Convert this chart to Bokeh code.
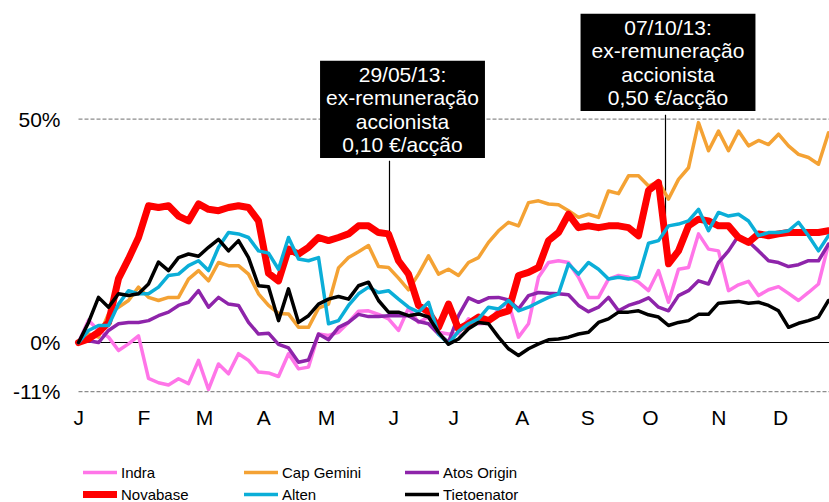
from bokeh.plotting import figure
from bokeh.models import Range1d, FixedTicker, Label, Legend, LegendItem
from bokeh.core.properties import value
from bokeh.embed import file_html
from bokeh.resources import INLINE

# sample index (approx. weekly-ish sampling across 2013)
idx = list(range(76))

indra = [0, 5, 2.7, 1.2, -1.8, -0.3, 1.5, -8, -9, -9.5, -8.1, -9.2, -4, -10.5, -4.8, -7,
         -2.5, -4, -6.6, -6.8, -7.6, -2.5, -5.9, -5.5, 1.9, 1.6, 2.3, 4.5, 7, 7.1, 6.3, 5.3,
         2.7, 7.7, 4.5, 5.7, 2.3, 1.9, 2, 5.3, 4.2, 4.3, 7.5, 9, 1.2, 4.2, 14.6, 17.9, 18.3,
         17.9, 14.6, 10.1, 10.1, 14.2, 15, 14.6, 13.5, 11.6, 16.1, 9, 16.4, 16.8, 24.3, 20.9,
         20.5, 11.6, 12.9, 13.7, 10.5, 11.8, 12.5, 11, 9.4, 11.2, 13.1, 22]

cap_gemini = [0, 1.9, 1.2, 6.4, 7.9, 9.4, 12.4, 10.1, 9.4, 10.1, 10.1, 14.2, 16.1, 13.8, 17.9,
              17.2, 17.2, 15.3, 10.9, 8.3, 6.5, 6.4, 3.4, 3.4, 7.7, 8.6, 16.7, 19, 20.3, 21.7,
              17, 16.8, 14.4, 11.8, 15.3, 19.4, 15.3, 16.4, 15, 17.9, 19, 22.4, 25, 26.9, 26.1,
              31.3, 31.7, 31, 30.8, 29.5, 28, 28.7, 28, 33.9, 33.3, 37.3, 37.3, 35, 36, 32.1,
              36.5, 39.1, 49.2, 42.9, 47.3, 42.9, 47.3, 44, 45.2, 44.3, 46.6, 44, 42.1, 41.4,
              39.9, 46.9]

atos_origin = [0, 0.4, 0, 2.7, 4.2, 4.5, 4.5, 4.9, 6, 6.8, 8.3, 9, 11.6, 7.9, 10.1, 8.6, 8.3,
               4.5, 1.9, 2.1, -0.4, -1.2, -4.4, -3.9, 1.9, 0.6, 3.4, 4.5, 6.3, 5.8, 5.8, 6, 6,
               6, 4.7, 4.2, 1.9, 0.1, 6, 10, 9, 10, 10.1, 9.5, 7.5, 10.5, 11.2, 11, 10.9, 10.7,
               8.3, 6.9, 7.9, 10.1, 7.1, 8.3, 9, 10, 7.9, 7.1, 10.5, 11.6, 13.8, 13.1, 17.9,
               20.5, 23.9, 22.6, 20.5, 18.3, 17.9, 17, 17.4, 18.3, 18.3, 22]

novabase = [0, 0.8, 2.3, 4.5, 14.3, 18.7, 23.5, 30.6, 30.2, 30.6, 28.3, 27.2, 31, 29.8, 29.5,
            30.2, 30.6, 30.2, 27.2, 15.5, 13.8, 20.9, 19.8, 21.3, 23.5, 22.8, 23.5, 24.3, 26.1,
            26.1, 24.6, 24.3, 18.3, 15.3, 8.3, 6.8, 3.4, 8.6, 3, 4.2, 5.7, 4.9, 6.4, 7.1, 15,
            15.7, 16.8, 22.8, 24.6, 28.7, 25.7, 26.1, 25.7, 26.1, 26.1, 25.7, 23.9, 34, 35.8,
            17.6, 20.5, 26.1, 27.6, 27.2, 26.1, 26.1, 23.5, 22.4, 24.3, 23.9, 24.3, 24.6, 24.6,
            24.6, 24.6, 25]

alten = [0, 2.7, 3.8, 3.8, 8.6, 11.6, 10.9, 10.9, 12.4, 15, 15.3, 17.2, 18.3, 16.1, 21.3, 24.6,
         24.3, 23.5, 20.5, 20, 16.4, 23.5, 18.7, 18.3, 19, 4.2, 4.9, 8.3, 10.9, 12.4, 11.2, 11.6,
         9.7, 7.9, 6.8, 9, 1.9, -0.3, 2.5, 4.2, 5.3, 7.9, 7.5, 9.4, 7.1, 7.9, 9, 10.1, 10.9,
         17.6, 15.3, 17.9, 16.4, 14.2, 14.6, 14.2, 14.6, 22.2, 22.8, 26.1, 26.5, 27.2, 29.8, 25,
         29.1, 28.3, 28.7, 27.2, 23.9, 24.6, 24.6, 25, 26.9, 23.9, 20.5, 23.9]

tietoenator = [0, 4.5, 10.1, 7.9, 10.9, 10.5, 10.9, 13.1, 18, 16.1, 19, 19.8, 19.3, 21.3, 23.1,
               20.5, 22.8, 19, 12.7, 12.5, 4.9, 12, 4.5, 6, 8.6, 9.7, 10.3, 9.7, 12.7, 13.5, 9.4,
               6.8, 6.8, 6, 6.4, 5.7, 2.3, -0.4, 0.8, 3.1, 4.5, 4.2, 1.2, -1.4, -2.9, -1.4, -0.3,
               0.6, 0.8, 1.2, 1.9, 2.3, 4.5, 5.3, 6.8, 6.8, 7.1, 6.2, 5.7, 3.8, 4.5, 4.9, 6.3,
               6.3, 8.8, 9, 9.2, 8.8, 9, 8.3, 7.1, 3.4, 4.3, 4.9, 5.7, 9.4]

series_names = ["Indra", "Cap Gemini", "Atos Origin", "Novabase", "Alten", "Tietoenator"]
series_values = [indra, cap_gemini, atos_origin, novabase, alten, tietoenator]
series_colors = ["#FF75E8", "#F4A234", "#8E24AA", "#FF0000", "#0BAED8", "#000000"]
series_widths = [3.5, 3.5, 3.5, 7, 3.5, 3.5]

month_pos = [0.03, 6.53, 12.6, 18.53, 24.8, 31.53, 37.53, 44.37, 50.93, 57.2, 64.03, 70.2]
month_labels = ["J", "F", "M", "A", "M", "J", "J", "A", "S", "O", "N", "D"]
y_ticks = [-11, 0, 50]
y_tick_labels = ["-11%", "0%", "50%"]
dashed_levels = [-11, 50]

# annotation data: event position, value where connector ends, box centre/top/bottom values
event_x = [31.1, 58.7]
event_end = [23.4, 25.0]
box_x = [32.4, 58.95]
box_top = [63.05, 73.56]
box_bottom = [40.68, 50.97]
box_pad = [(6, 2), (11, 2)]
box_text = ["29/05/13:\nex-remuneração\naccionista\n0,10 €/acção",
            "07/10/13:\nex-remuneração\naccionista\n0,50 €/acção"]

FONT = "Liberation Sans"
y_bottom = y_ticks[0]
x_start, x_end = idx[0], 75.1

p = figure(width=829, height=502, output_backend="svg", toolbar_location=None,
           x_range=Range1d(-0.8, x_end), y_range=Range1d(-35.79, 74.28),
           min_border_left=70, min_border_right=0, min_border_top=10, min_border_bottom=0,
           background_fill_color="white", border_fill_color="white")
p.outline_line_color = None

p.xgrid.visible = False
p.ygrid.visible = False
p.xaxis.visible = False

ax = p.yaxis[0]
ax.axis_line_color = None
ax.major_tick_line_color = None
ax.minor_tick_line_color = None
ax.major_tick_out = 0
ax.major_tick_in = 0
ax.minor_tick_out = 0
ax.minor_tick_in = 0
ax.major_label_text_font = FONT
ax.major_label_text_font_size = "21px"
ax.major_label_text_color = "black"
ax.ticker = FixedTicker(ticks=y_ticks)
ax.major_label_overrides = {t: l for t, l in zip(y_ticks, y_tick_labels)}
ax.major_label_standoff = 10

# dashed reference lines and zero line
p.segment(x0=[x_start] * len(dashed_levels), y0=dashed_levels,
          x1=[x_end] * len(dashed_levels), y1=dashed_levels,
          line_color="#8c8c8c", line_dash="4 2", line_width=1.3)
p.segment(x0=[x_start], y0=[0], x1=[x_end], y1=[0], line_color="black", line_width=1.2)

# month labels below the -11% line
p.text(x=month_pos, y=[y_bottom] * len(month_pos), text=month_labels,
       text_align="center", text_baseline="middle", y_offset=26,
       text_font=value(FONT), text_font_size="21px", text_color="black")

# connector lines
p.segment(x0=event_x, y0=box_bottom, x1=event_x, y1=event_end, line_color="black", line_width=1.2)

renderers = []
for name, vals, col, lw in zip(series_names, series_values, series_colors, series_widths):
    r = p.line(idx, vals, line_color=col, line_width=lw, line_join="round", line_cap="round")
    renderers.append(r)

for bx, bt, txt, pad in zip(box_x, box_top, box_text, box_pad):
    p.add_layout(Label(x=bx, y=bt, text=txt, text_align="center", text_baseline="top",
                       text_color="white", text_font=FONT, text_font_size="21px",
                       text_line_height=1.02, background_fill_color="black",
                       background_fill_alpha=1.0, padding=pad))

legend = Legend(items=[LegendItem(label=n, renderers=[r]) for n, r in zip(series_names, renderers)],
                orientation="horizontal", ncols=3, location=(13, -2),
                glyph_width=34, glyph_height=20, label_height=20, label_width=121,
                label_standoff=4, spacing=2, padding=0, margin=0,
                border_line_color=None, background_fill_alpha=0,
                label_text_font=FONT,
                label_text_font_size="15px", label_text_color="black")
p.add_layout(legend)

open("out.html", "w").write(file_html(p, INLINE))
